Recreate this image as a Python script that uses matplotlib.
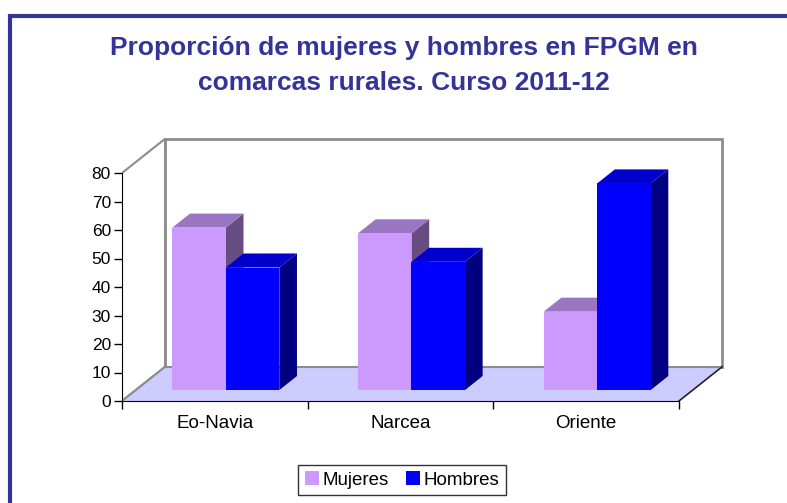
import matplotlib
matplotlib.use("Agg")
import matplotlib.pyplot as plt
from matplotlib.patches import Polygon, Rectangle

# Data (percent)
comarcas = ["Eo-Navia", "Narcea", "Oriente"]
mujeres = [57.0, 55.0, 27.5]
hombres = [43.0, 45.0, 72.5]
series_names = ["Mujeres", "Hombres"]
y_ticks = [0, 10, 20, 30, 40, 50, 60, 70, 80]

# Excel-like 3D look: colours for front / top / side faces
FACE = {"Mujeres": ("#CC99FF", "#9A76C2", "#664C80"),
        "Hombres": ("#0000FF", "#0000CC", "#000080")}
TITLE_COLOR = "#333399"
GRAY = "#8C8C8C"

# depth of the floor (in data units) and where the bars sit inside it
DX, DY = 0.232, 12.0
F0, F1 = 0.32, 0.73
BAR_W = 0.288
GROUP_OFF = 0.485
YMAX = 80

plt.rcParams["font.family"] = ["Liberation Sans", "DejaVu Sans"]

W, H = 787, 503
fig = plt.figure(figsize=(W / 100, H / 100), dpi=100)

# axes placed so that the front of the floor spans x 0..3 and y 0..80
x_px = (679 - 122) / 3
y_px = (401 - 173) / YMAX
xlim = (0, 3.35)
ylim = (0, 95)
ax = fig.add_axes([122 / W, (H - 401) / H,
                   (xlim[1] - xlim[0]) * x_px / W,
                   (ylim[1] - ylim[0]) * y_px / H])
ax.set_xlim(*xlim)
ax.set_ylim(*ylim)
ax.patch.set_visible(False)

n = len(comarcas)

# walls and floor
back = Rectangle((DX, DY), n, YMAX, facecolor="white", edgecolor=GRAY,
                 linewidth=2, zorder=0)
ax.add_patch(back)
side = Polygon([(0, 0), (DX, DY), (DX, YMAX + DY), (0, YMAX)], closed=True,
               facecolor="white", edgecolor=GRAY, linewidth=1.5, zorder=0)
ax.add_patch(side)
floor = Polygon([(0, 0), (n, 0), (n + DX, DY), (DX, DY)], closed=True,
                facecolor="#CCCCFF", edgecolor="none", zorder=1)
ax.add_patch(floor)
ax.plot([DX, n + DX], [DY, DY], color=GRAY, lw=1.5, zorder=1.1)
ax.plot([0, DX], [0, DY], color=GRAY, lw=1.5, zorder=1.1)
ax.plot([n, n + DX], [0, DY], color="#222222", lw=1.2, zorder=1.1)

# bars: front face via ax.bar, top and side faces as polygons
dd = F1 - F0
for s, (name, vals) in enumerate(zip(series_names, [mujeres, hombres])):
    front_c, top_c, side_c = FACE[name]
    x0s = [c + GROUP_OFF - BAR_W + s * BAR_W + F0 * DX for c in range(n)]
    y0 = F0 * DY
    z = 3 + s
    for x0, v in zip(x0s, vals):
        ax.add_patch(Polygon([(x0 + BAR_W, y0), (x0 + BAR_W + dd * DX, y0 + dd * DY),
                              (x0 + BAR_W + dd * DX, y0 + v + dd * DY), (x0 + BAR_W, y0 + v)],
                             closed=True, facecolor=side_c, edgecolor="none", zorder=z))
        ax.add_patch(Polygon([(x0, y0 + v), (x0 + BAR_W, y0 + v),
                              (x0 + BAR_W + dd * DX, y0 + v + dd * DY), (x0 + dd * DX, y0 + v + dd * DY)],
                             closed=True, facecolor=top_c, edgecolor="none", zorder=z))
    ax.bar(x0s, vals, width=BAR_W, bottom=y0, align="edge", color=front_c,
           edgecolor="none", zorder=z + 0.5, label=name)

# axes lines and ticks
for sp in ["top", "right"]:
    ax.spines[sp].set_visible(False)
ax.spines["left"].set_bounds(0, YMAX)
ax.spines["bottom"].set_bounds(0, n)
ax.spines["left"].set_zorder(6)
ax.spines["bottom"].set_zorder(6)
ax.set_yticks(y_ticks)
ax.tick_params(axis="y", length=6, width=1, labelsize=12.5, pad=2)
ax.set_xticks(range(n + 1))
ax.set_xticklabels([])
ax.set_xticks([c + 0.5 for c in range(n)], minor=True)
ax.set_xticklabels(comarcas, minor=True)
ax.tick_params(axis="x", which="major", length=6, width=1)
ax.tick_params(axis="x", which="minor", length=0, labelsize=13.5, pad=10)

# title
title_x = 404 / W
fig.text(title_x, 1 - 48 / H, "Proporción de mujeres y hombres en FPGM en",
         ha="center", va="center", fontsize=19, fontweight="bold", color=TITLE_COLOR)
fig.text(title_x, 1 - 83 / H, "comarcas rurales. Curso 2011-12",
         ha="center", va="center", fontsize=19, fontweight="bold", color=TITLE_COLOR)

# legend
leg = fig.legend(loc="center", bbox_to_anchor=(402 / W, 1 - 480 / H), ncol=2,
                 fontsize=13.5, frameon=True, fancybox=False, handlelength=0.75,
                 handleheight=0.75, handletextpad=0.2, columnspacing=0.9,
                 borderpad=0.35)
leg.get_frame().set_edgecolor("black")
leg.get_frame().set_linewidth(1)

# outer chart border
fig.patches.append(Rectangle((10 / W, -0.1), 1.0, 1.1 - 16 / H, transform=fig.transFigure,
                             fill=False, edgecolor="#333399", linewidth=3))

fig.savefig("out.png", dpi=100)
